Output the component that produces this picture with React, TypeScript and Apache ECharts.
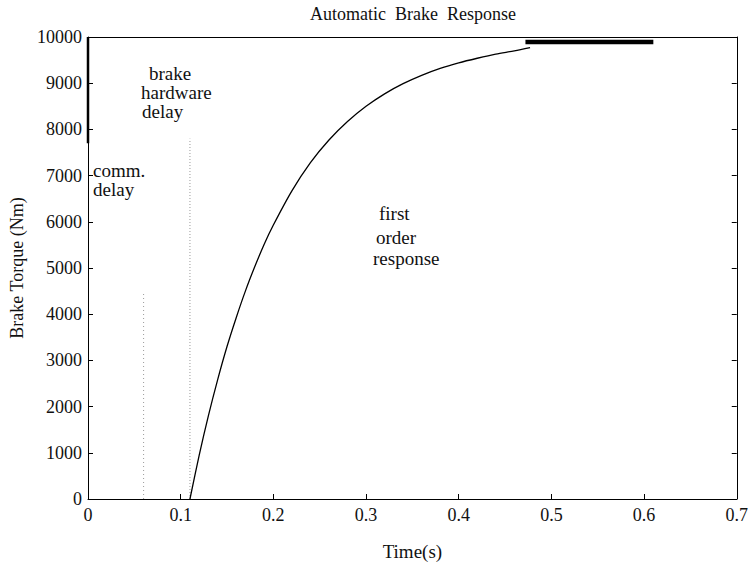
import React, { useEffect, useRef } from "react";
import * as echarts from "echarts";

const TITLE = "Automatic  Brake  Response";
const X_NAME = "Time(s)";
const Y_NAME = "Brake Torque (Nm)";

// first-order response curve (time s, torque Nm)
const responseTime = [0.11, 0.12, 0.13, 0.14, 0.15, 0.16, 0.17, 0.18, 0.19, 0.2, 0.22, 0.24, 0.26, 0.28, 0.3, 0.32, 0.34, 0.36, 0.38, 0.4, 0.42, 0.44, 0.46, 0.477];
const responseTorque = [0, 950, 1810, 2590, 3300, 3930, 4510, 5030, 5510, 5930, 6670, 7280, 7770, 8170, 8500, 8770, 8990, 9170, 9320, 9440, 9540, 9630, 9700, 9770];

// steady-state thick segment
const steadyTime = [0.472, 0.61];
const steadyTorque = [9890, 9890];

// dotted delay markers
const commDelayTime = [0.06, 0.06];
const commDelayTorque = [0, 4500];
const hwDelayTime = [0.11, 0.11];
const hwDelayTorque = [0, 7800];

// thick segment on left edge
const leftEdgeTime = [0, 0];
const leftEdgeTorque = [7700, 10000];

const zip = (a: number[], b: number[]) => a.map((v, i) => [v, b[i]]);

const FONT = "Liberation Serif";

export default function App() {
  const ref = useRef<HTMLDivElement>(null);
  useEffect(() => {
    document.body.style.margin = "0";
    const chart = echarts.init(ref.current!, undefined, { renderer: "svg" });
    const txt = (text: string, x: number, y: number) => ({
      type: "text",
      x,
      y,
      style: { text, font: `19px "${FONT}"`, fill: "#111", textVerticalAlign: "middle" },
    });
    chart.setOption({
      animation: false,
      backgroundColor: "#fff",
      title: {
        text: TITLE,
        left: 408,
        textAlign: "center",
        top: 0,
        textStyle: { fontFamily: FONT, fontSize: 18, fontWeight: "normal", color: "#111" },
      },
      grid: { left: 88, right: 14, top: 37, bottom: 72 },
      xAxis: [
        {
          type: "value",
          min: 0,
          max: 0.7,
          interval: 0.1,
          position: "bottom",
          name: X_NAME,
          nameLocation: "middle",
          nameGap: 43,
          nameTextStyle: { fontFamily: FONT, fontSize: 19, color: "#111" },
          axisLine: { show: true, onZero: false, lineStyle: { color: "#000", width: 1 } },
          axisTick: { show: true, inside: true, length: 5, lineStyle: { color: "#000" } },
          axisLabel: {
            margin: 7,
            fontFamily: FONT,
            fontSize: 18,
            color: "#111",
            formatter: (v: number) => String(Number(v.toFixed(1))),
          },
          splitLine: { show: false },
        },
        {
          type: "value",
          min: 0,
          max: 0.7,
          interval: 0.1,
          position: "top",
          axisLine: { show: true, onZero: false, lineStyle: { color: "#000", width: 1 } },
          axisTick: { show: false },
          axisLabel: { show: false },
          splitLine: { show: false },
        },
      ],
      yAxis: [
        {
          type: "value",
          min: 0,
          max: 10000,
          interval: 1000,
          position: "left",
          name: Y_NAME,
          nameLocation: "middle",
          nameGap: 59,
          nameRotate: 90,
          nameTextStyle: { fontFamily: FONT, fontSize: 18, color: "#111" },
          axisLine: { show: true, onZero: false, lineStyle: { color: "#000", width: 1 } },
          axisTick: { show: true, inside: true, length: 5, lineStyle: { color: "#000" } },
          axisLabel: {
            margin: 6,
            fontFamily: FONT,
            fontSize: 18,
            color: "#111",
            formatter: (v: number) => String(v),
          },
          splitLine: { show: false },
        },
        {
          type: "value",
          min: 0,
          max: 10000,
          interval: 1000,
          position: "right",
          axisLine: { show: true, onZero: false, lineStyle: { color: "#000", width: 1 } },
          axisTick: { show: true, inside: true, length: 5, lineStyle: { color: "#000" } },
          axisLabel: { show: false },
          splitLine: { show: false },
        },
      ],
      series: [
        {
          type: "line",
          data: zip(commDelayTime, commDelayTorque),
          symbol: "none",
          lineStyle: { color: "#9a9a9a", width: 1, type: [1, 3] },
        },
        {
          type: "line",
          data: zip(hwDelayTime, hwDelayTorque),
          symbol: "none",
          lineStyle: { color: "#9a9a9a", width: 1, type: [1, 2] },
        },
        {
          type: "line",
          data: zip(responseTime, responseTorque),
          symbol: "none",
          smooth: 0.3,
          lineStyle: { color: "#000", width: 1.3 },
        },
        {
          type: "line",
          data: zip(steadyTime, steadyTorque),
          symbol: "none",
          lineStyle: { color: "#000", width: 4.5, cap: "butt" },
        },
        {
          type: "line",
          data: zip(leftEdgeTime, leftEdgeTorque),
          symbol: "none",
          lineStyle: { color: "#000", width: 2.5, cap: "butt" },
        },
      ],
      graphic: [
        txt("brake", 149, 73),
        txt("hardware", 141, 92),
        txt("delay", 142, 111),
        txt("comm.", 93, 170),
        txt("delay", 93, 189),
        txt("first", 379, 213),
        txt("order", 376, 237),
        txt("response", 373, 258),
      ],
    });
    return () => chart.dispose();
  }, []);
  return <div ref={ref} style={{ position: "absolute", left: 0, top: 0, width: 751, height: 571 }} />;
}
